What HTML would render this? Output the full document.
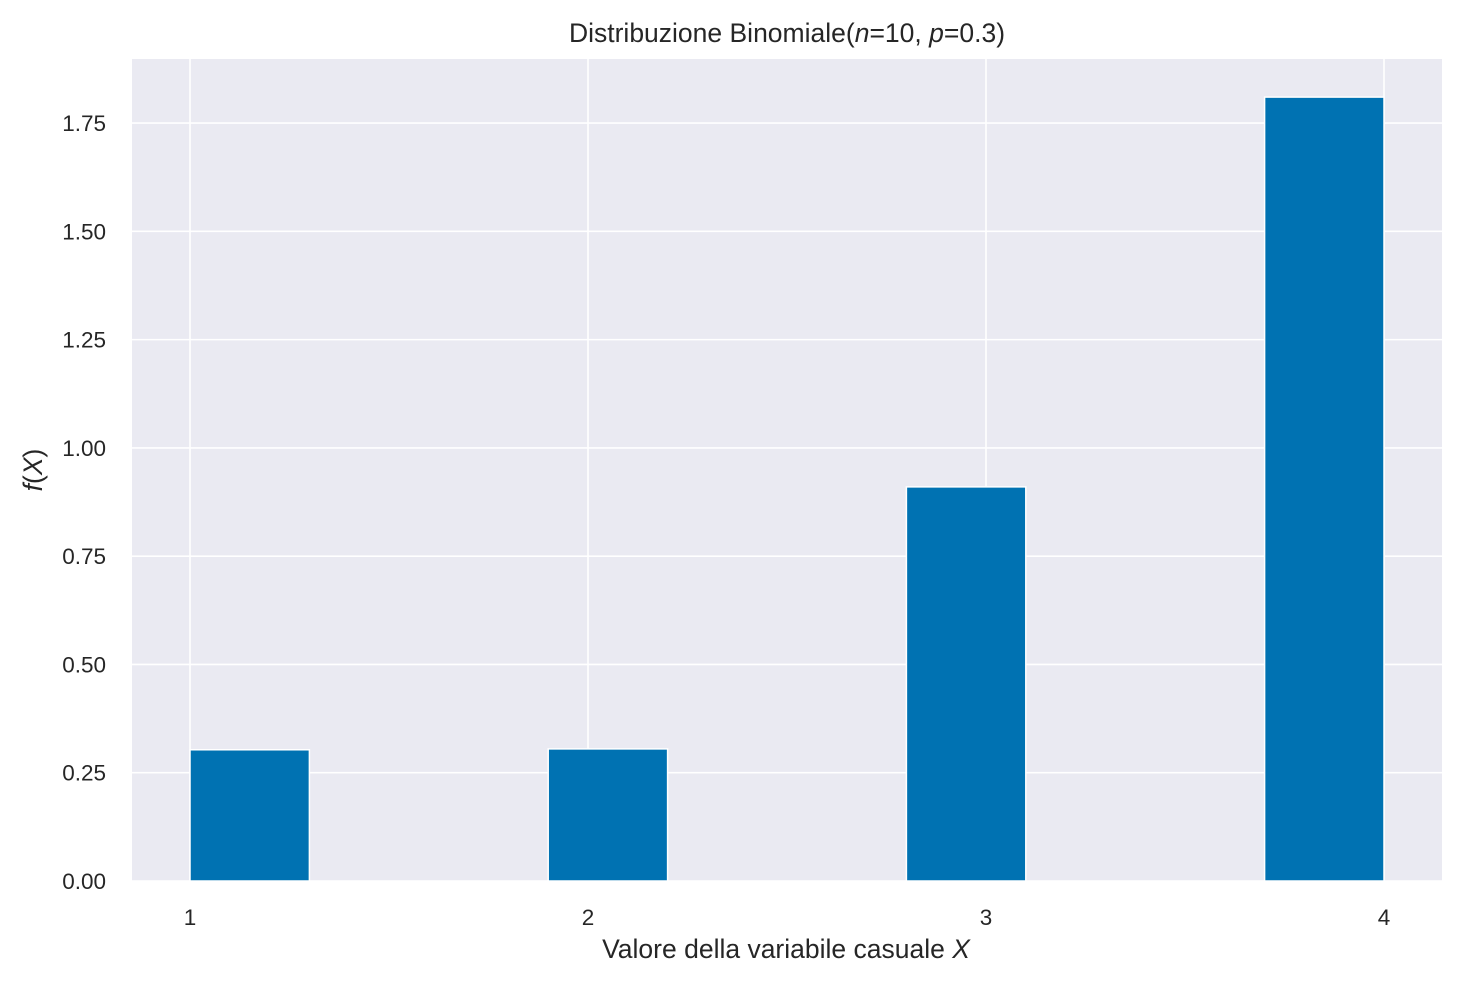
<!DOCTYPE html>
<html><head><meta charset="utf-8"><style>
body{margin:0;background:#fff;}
svg{display:block;font-family:"Liberation Sans",sans-serif;}
</style></head><body>
<svg id="chart" width="1463" height="983">
<rect x="132" y="59" width="1310" height="822" fill="#eaeaf2"/>
<g id="grid"></g><g id="bars"></g><g id="ticks"></g>
<text x="787" y="42" text-anchor="middle" font-size="26.5" fill="#262626">Distribuzione Binomiale(<tspan font-style="italic">n</tspan>=10, <tspan font-style="italic">p</tspan>=0.3)</text>
<text x="786" y="958" text-anchor="middle" font-size="26.5" fill="#262626">Valore della variabile casuale <tspan font-style="italic">X</tspan></text>
<text transform="translate(42,470) rotate(-90)" text-anchor="middle" font-size="26.5" fill="#262626"><tspan font-style="italic">f</tspan>(<tspan font-style="italic">X</tspan>)</text>
</svg>
<script>
const binLefts=[1,1.9,2.8,3.7];
const binWidth=0.3;
const heights=[0.303,0.305,0.91,1.81];
const xTicks=[1,2,3,4];
const yTicks=[0,0.25,0.5,0.75,1.0,1.25,1.5,1.75];
const yTickLabels=["0.00","0.25","0.50","0.75","1.00","1.25","1.50","1.75"];
const NS="http://www.w3.org/2000/svg";
function xs(v){return 190+(v-1)*398;}
function ys(v){return 881-v*433.1;}
function mk(t,a,p){const e=document.createElementNS(NS,t);for(const k in a)e.setAttribute(k,a[k]);p.appendChild(e);return e;}
const grid=document.getElementById('grid'),bars=document.getElementById('bars'),ticks=document.getElementById('ticks');
yTicks.forEach((v,i)=>{
 const l=mk('line',{x1:132,x2:1442,y1:ys(v),y2:ys(v),stroke:'#fff','stroke-width':1.6},grid);
 
 
 const t=mk('text',{x:106,y:ys(v)+8,'text-anchor':'end','font-size':22.5,fill:'#262626'},ticks);
 t.textContent=yTickLabels[i];
 
 
});
xTicks.forEach(v=>{
 const l=mk('line',{x1:xs(v),x2:xs(v),y1:59,y2:881,stroke:'#fff','stroke-width':1.6},grid);
 
 
 const t=mk('text',{x:xs(v),y:925,'text-anchor':'middle','font-size':22.5,fill:'#262626'},ticks);
 t.textContent=v;
 
 
});
binLefts.forEach((b,i)=>{
 const x0=xs(b),x1=xs(b+binWidth),y=ys(heights[i]);
 const r=mk('rect',{x:x0,y:y,width:x1-x0,height:881-y,fill:'#0072b2',stroke:'#fff','stroke-width':1.5},bars);
 
 
});
</script>
</body></html>
